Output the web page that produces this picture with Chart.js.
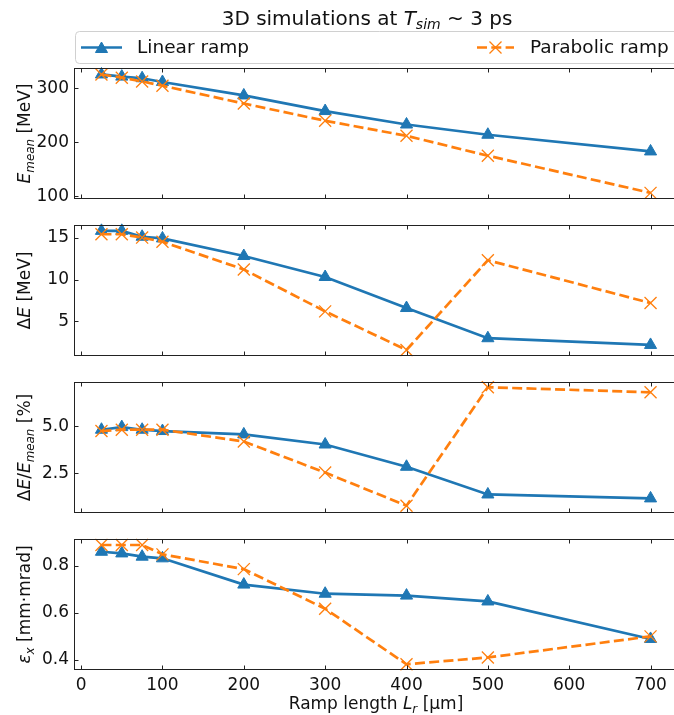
<!DOCTYPE html>
<html>
<head>
<meta charset="utf-8">
<title>Ramp length scan</title>
<script src="https://cdn.jsdelivr.net/npm/chart.js@4.4.1/dist/chart.umd.min.js"></script>
<style>
  html, body { margin: 0; padding: 0; background: #fff; overflow: hidden; }
  #fig { position: relative; width: 674px; height: 715px; overflow: hidden; }
  #fig canvas { position: absolute; left: 0; }
</style>
</head>
<body>
<div id="fig">
  <canvas id="emeanChart" width="678" height="215" style="top:0px"></canvas>
  <canvas id="spreadChart" width="678" height="163" style="top:209px"></canvas>
  <canvas id="relSpreadChart" width="678" height="163" style="top:366px"></canvas>
  <canvas id="emitChart" width="678" height="193" style="top:523px"></canvas>
</div>
<script>
// ramp lengths in µm
const rampLength = [25, 50, 75, 100, 200, 300, 400, 500, 700];

// mean energy [MeV]
const emeanLinear    = [326, 322, 319, 312, 287, 258, 233, 214, 183];
const emeanParabolic = [326, 320, 313, 305, 272, 240, 212, 175, 106];

// energy spread [MeV]
const spreadLinear    = [15.8, 15.8, 15.1, 14.9, 12.8, 10.3, 6.6, 3.0, 2.2];
const spreadParabolic = [15.4, 15.4, 15.0, 14.5, 11.2, 6.2, 1.6, 12.3, 7.2];

// relative spread [%]
const relLinear    = [4.82, 4.96, 4.82, 4.75, 4.57, 4.03, 2.84, 1.36, 1.15];
const relParabolic = [4.75, 4.82, 4.82, 4.82, 4.19, 2.53, 0.76, 7.09, 6.82];

// emittance [mm mrad]
const emitLinear    = [0.860, 0.853, 0.839, 0.832, 0.720, 0.681, 0.673, 0.648, 0.488];
const emitParabolic = [0.889, 0.889, 0.889, 0.849, 0.786, 0.617, 0.380, 0.409, 0.499];

// tick labels
const rampTicks   = [0, 100, 200, 300, 400, 500, 600, 700];
const emeanTicks  = [100, 200, 300];
const spreadTicks = [5, 10, 15];
const relTicks    = [2.5, 5.0];
const emitTicks   = [0.4, 0.6, 0.8];

const FONT = "'DejaVu Sans', 'Liberation Sans', sans-serif";
const BLUE = '#1f77b4';
const ORANGE = '#ff7f0e';

Chart.defaults.font.family = FONT;
Chart.defaults.color = '#111';

// text with italic / subscript pieces, centred on x unless align is 'left'
function richWidth(ctx, segs, size) {
  let w = 0;
  segs.forEach(s => {
    ctx.font = (s.it ? 'italic ' : '') + (s.sub ? size * 0.7 : size) + 'px ' + FONT;
    w += ctx.measureText(s.t).width;
  });
  return w;
}
function drawRich(ctx, segs, size, x, y, align) {
  let cx = align === 'left' ? x : x - richWidth(ctx, segs, size) / 2;
  ctx.textAlign = 'left';
  ctx.textBaseline = 'alphabetic';
  segs.forEach(s => {
    ctx.font = (s.it ? 'italic ' : '') + (s.sub ? size * 0.7 : size) + 'px ' + FONT;
    ctx.fillText(s.t, cx, y + (s.sub ? size * 0.22 : 0));
    cx += ctx.measureText(s.t).width;
  });
}

// box, inward ticks and axis titles
const frameAndTicks = {
  id: 'frameAndTicks',
  afterDatasetsDraw(chart, args, opts) {
    const { ctx, chartArea: a } = chart;
    const x = chart.scales.x, y = chart.scales.y;
    const L = Math.round(a.left) + 0.5, R = Math.round(a.right) - 0.5;
    const T = Math.round(a.top) + 0.5, B = Math.round(a.bottom) - 0.5;
    ctx.save();
    ctx.strokeStyle = '#222';
    ctx.lineWidth = 1;
    ctx.strokeRect(L, T, R - L, B - T);
    ctx.beginPath();
    x.ticks.forEach(t => {
      const px = Math.round(x.getPixelForValue(t.value)) + 0.5;
      ctx.moveTo(px, B); ctx.lineTo(px, B - 4);
      ctx.moveTo(px, T); ctx.lineTo(px, T + 4);
    });
    y.ticks.forEach(t => {
      const py = Math.round(y.getPixelForValue(t.value)) + 0.5;
      ctx.moveTo(L, py); ctx.lineTo(L + 4, py);
    });
    ctx.stroke();

    ctx.fillStyle = '#111';
    if (opts.ylabel) {
      ctx.save();
      ctx.translate(24, (a.top + a.bottom) / 2);
      ctx.rotate(-Math.PI / 2);
      drawRich(ctx, opts.ylabel, 17, 0, 17 * 0.36);
      ctx.restore();
    }
    if (opts.xlabel) {
      drawRich(ctx, opts.xlabel, 17, (a.left + a.right) / 2, a.bottom + 39);
    }
    ctx.restore();
  }
};

// figure title and legend above the first panel
const header = {
  id: 'header',
  afterDraw(chart, args, opts) {
    if (!opts.show) return;
    const { ctx, chartArea: a } = chart;
    const H = Chart.helpers;
    ctx.save();
    ctx.fillStyle = '#111';
    drawRich(ctx, [
      { t: '3D simulations at ' },
      { t: 'T', it: true },
      { t: 'sim', it: true, sub: true },
      { t: ' ~ 3 ps' }
    ], 20, (a.left + a.right) / 2 - 9, 25);

    // legend frame
    const bx = a.left + 1.5, by = 31.5, bw = a.right - a.left + 4, bh = 32;
    ctx.beginPath();
    ctx.roundRect(bx, by, bw, bh, 4);
    ctx.fillStyle = 'rgba(255,255,255,0.8)';
    ctx.fill();
    ctx.strokeStyle = '#d0d0d0';
    ctx.lineWidth = 1;
    ctx.stroke();

    const ly = by + bh / 2;
    // linear ramp entry
    ctx.strokeStyle = BLUE; ctx.fillStyle = BLUE; ctx.lineWidth = 2.7;
    ctx.beginPath(); ctx.moveTo(a.left + 7, ly); ctx.lineTo(a.left + 48, ly); ctx.stroke();
    ctx.lineWidth = 1;
    H.drawPoint(ctx, { pointStyle: 'triangle', radius: 7, borderWidth: 1, rotation: 0 }, a.left + 27.5, ly + 1.5);
    ctx.fillStyle = '#111';
    ctx.font = '18.5px ' + FONT;
    ctx.textBaseline = 'middle';
    ctx.textAlign = 'left';
    ctx.fillText('Linear ramp', a.left + 63, ly + 1);

    // parabolic ramp entry
    ctx.strokeStyle = ORANGE; ctx.lineWidth = 2.7;
    ctx.setLineDash([10, 4.3]);
    ctx.beginPath(); ctx.moveTo(a.left + 403, ly); ctx.lineTo(a.left + 440, ly); ctx.stroke();
    ctx.setLineDash([]);
    ctx.lineWidth = 1.3;
    H.drawPoint(ctx, { pointStyle: 'crossRot', radius: 8.5, borderWidth: 1.3, rotation: 0 }, a.left + 421.5, ly);
    ctx.fillStyle = '#111';
    ctx.fillText('Parabolic ramp', a.left + 456, ly + 1);
    ctx.restore();
  }
};

function makePanel(id, cfg) {
  const ctx = document.getElementById(id).getContext('2d');
  return new Chart(ctx, {
    type: 'line',
    data: {
      datasets: [
        {
          label: 'Linear ramp',
          data: rampLength.map((r, i) => ({ x: r, y: cfg.linear[i] })),
          borderColor: BLUE,
          backgroundColor: BLUE,
          borderWidth: 2.7,
          pointStyle: 'triangle',
          pointRadius: 7,
          pointBorderWidth: 1,
          pointBackgroundColor: BLUE,
          pointBorderColor: BLUE,
          tension: 0,
          clip: false,
          order: 2
        },
        {
          label: 'Parabolic ramp',
          data: rampLength.map((r, i) => ({ x: r, y: cfg.parabolic[i] })),
          borderColor: ORANGE,
          backgroundColor: ORANGE,
          borderWidth: 2.7,
          borderDash: [10, 4.3],
          pointStyle: 'crossRot',
          pointRadius: 8.5,
          pointBorderWidth: 1.3,
          pointBorderColor: ORANGE,
          tension: 0,
          clip: false,
          order: 1
        }
      ]
    },
    options: {
      responsive: false,
      animation: false,
      events: [],
      layout: {
        autoPadding: false,
        padding: { top: cfg.padTop, bottom: cfg.bottom ? 0 : 16, left: 0, right: 0 }
      },
      scales: {
        x: {
          type: 'linear',
          min: -8.75,
          max: 733.75,
          grid: { display: false, drawTicks: false },
          border: { display: false },
          afterBuildTicks: s => { s.ticks = rampTicks.map(v => ({ value: v })); },
          afterFit: s => { s.height = cfg.bottom ? 46 : 0; },
          ticks: {
            display: !!cfg.bottom,
            padding: 5,
            maxRotation: 0,
            font: { size: 17 },
            color: '#111',
            callback: v => String(v)
          }
        },
        y: {
          type: 'linear',
          min: cfg.min,
          max: cfg.max,
          grid: { display: false, drawTicks: false },
          border: { display: false },
          afterBuildTicks: s => { s.ticks = cfg.ticks.map(v => ({ value: v })); },
          afterFit: s => { s.width = 74; },
          ticks: {
            padding: 5,
            font: { size: 17 },
            color: '#111',
            callback: v => v.toFixed(cfg.dec)
          }
        }
      },
      plugins: {
        legend: { display: false },
        tooltip: { enabled: false },
        frameAndTicks: { ylabel: cfg.ylabel, xlabel: cfg.xlabel },
        header: { show: !!cfg.header }
      }
    },
    plugins: [frameAndTicks, header]
  });
}

const emeanChart = makePanel('emeanChart', {
  linear: emeanLinear, parabolic: emeanParabolic,
  min: 94.6, max: 338, ticks: emeanTicks, dec: 0, padTop: 68, header: true,
  ylabel: [{ t: 'E', it: true }, { t: 'mean', it: true, sub: true }, { t: ' [MeV]' }]
});

const spreadChart = makePanel('spreadChart', {
  linear: spreadLinear, parabolic: spreadParabolic,
  min: 0.88, max: 16.5, ticks: spreadTicks, dec: 0, padTop: 16,
  ylabel: [{ t: 'Δ' }, { t: 'E', it: true }, { t: ' [MeV]' }]
});

const relSpreadChart = makePanel('relSpreadChart', {
  linear: relLinear, parabolic: relParabolic,
  min: 0.37, max: 7.37, ticks: relTicks, dec: 1, padTop: 16,
  ylabel: [{ t: 'Δ' }, { t: 'E', it: true }, { t: '/' }, { t: 'E', it: true }, { t: 'mean', it: true, sub: true }, { t: ' [%]' }]
});

const emitChart = makePanel('emitChart', {
  linear: emitLinear, parabolic: emitParabolic,
  min: 0.3555, max: 0.9145, ticks: emitTicks, dec: 1, padTop: 16, bottom: true,
  ylabel: [{ t: 'ε', it: true }, { t: 'x', it: true, sub: true }, { t: ' [mm·mrad]' }],
  xlabel: [{ t: 'Ramp length ' }, { t: 'L', it: true }, { t: 'r', it: true, sub: true }, { t: ' [μm]' }]
});
</script>
</body>
</html>
